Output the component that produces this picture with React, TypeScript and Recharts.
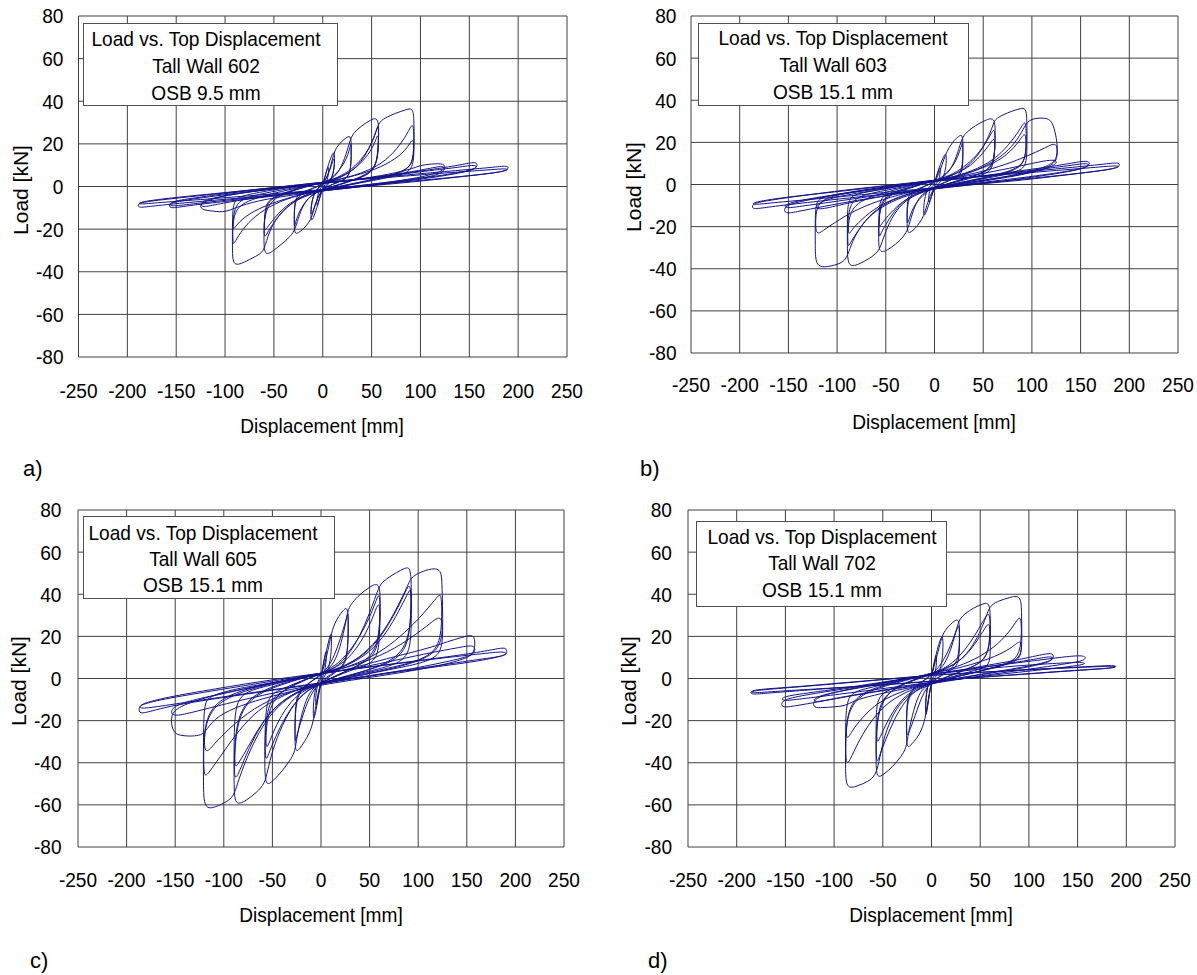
import React from 'react';
import { ScatterChart, Scatter, XAxis, YAxis, CartesianGrid } from 'recharts';

type Pt = [number, number];

const dispTicks = [-250, -200, -150, -100, -50, 0, 50, 100, 150, 200, 250];
const loadTicks = [-80, -60, -40, -20, 0, 20, 40, 60, 80];

const wallNames = ['Tall Wall 602', 'Tall Wall 603', 'Tall Wall 605', 'Tall Wall 702'];
const osbNames = ['OSB 9.5 mm', 'OSB 15.1 mm', 'OSB 15.1 mm', 'OSB 15.1 mm'];
const panelTags = ['a)', 'b)', 'c)', 'd)'];

// displacement [mm], load [kN], one full cycle per entry
const wall602: Pt[][] = [
  [[0,0],[2,4],[4,7.5],[6,10],[6.2,6],[4,2],[1,0],[-2,-3],[-4,-7],[-6,-10],[-6.2,-6],[-4,-2],[-1,0],[0,0]],
  [[0,1],[3,6],[6,10.5],[9,14.5],[12,17],[12.3,11],[10,4],[5,0.5],[0,-1.5],[-3,-5],[-6,-10],[-9,-14],[-12,-17],[-12.3,-11],[-10,-4],[-5,-0.5],[0,1]],
  [[0,1],[5,5],[9,10],[12,14.5],[12.2,9],[9,3],[0,-1],[-5,-5],[-9,-10],[-12,-14.5],[-12.2,-9],[-9,-3],[0,1]],
  [[0,1],[4,4],[8,9],[11,15],[14,18.5],[20,21.5],[25,23.2],[29,24],[29.3,17],[28.8,8],[26,4],[15,2],[5,0],[0,-1.5],[-4,-4],[-8,-9],[-11,-14],[-14,-17],[-20,-20],[-25,-21.8],[-29,-22.5],[-29.3,-16],[-29,-7.6],[-26,-4],[-15,-1.5],[-5,0],[0,1]],
  [[0,1.5],[8,3.5],[16,7],[22,11],[26,15],[28.5,19.5],[29,20.5],[29.2,13],[28,6],[22,3],[10,1],[0,-1],[-8,-3],[-16,-6],[-22,-10],[-26,-14],[-28.5,-18],[-29,-19.5],[-29.2,-12],[-28,-6],[-20,-3],[-10,-1],[0,1.5]],
  [[0,1.5],[10,3.5],[18,8],[24,15],[28,22],[32,25.5],[40,28.5],[48,31],[57,33],[57.5,24],[56,13],[52,8],[40,4.5],[20,1.5],[0,-1.5],[-10,-3.5],[-18,-7],[-24,-13],[-28,-20],[-33,-23.5],[-42,-27],[-50,-30],[-60,-33],[-60.3,-24],[-59.5,-10],[-55,-6],[-40,-3],[-20,0],[0,1.5]],
  [[0,2],[15,4],[30,8],[42,14],[50,20],[55,26],[57,30],[57.3,20],[55,9],[45,5],[25,2],[0,-1.5],[-15,-3.5],[-30,-7],[-42,-12],[-52,-18],[-58,-23],[-60,-24],[-60.2,-16],[-57,-7],[-45,-4],[-20,-0.5],[0,2]],
  [[0,2],[20,4.5],[35,9],[47,15],[54,21],[57,26],[57.2,16],[53,7],[30,2.5],[0,-1.5],[-20,-4],[-38,-9],[-50,-15],[-58,-20],[-60,-21],[-59.5,-12],[-50,-5],[-25,-1],[0,2]],
  [[0,1.5],[15,3.5],[30,7],[42,13],[52,22],[57,30],[63,32],[75,34.5],[85,36],[92,37],[93.5,32],[93.5,20],[93,9],[85,6],[60,3.5],[30,1],[0,-2],[-15,-4],[-30,-7],[-45,-13],[-55,-21],[-60,-30],[-65,-32],[-78,-35],[-92,-38],[-92.5,-30],[-92.5,-15],[-91.5,-6],[-80,-4],[-50,-1.5],[-20,0.5],[0,1.5]],
  [[0,2],[20,3.5],[45,7],[65,12],[80,20],[88,26],[93,31],[93.5,20],[92,10],[80,6],[50,3],[0,-1.5],[-25,-4],[-50,-8],[-70,-14],[-82,-20],[-90,-26],[-92,-28],[-92.3,-18],[-90,-7],[-70,-4],[-35,-1],[0,2]],
  [[0,2],[25,4],[55,8],[75,13],[87,18],[93,24],[93.5,15],[90,8],[60,4],[0,-1.5],[-30,-4.5],[-60,-9],[-80,-14],[-90,-19],[-92,-21],[-91,-10],[-70,-5],[0,2]],
  [[0,1.5],[30,3],[60,5],[90,8],[100,10],[110,10.5],[125,11],[125.5,8],[120,5.5],[90,3],[50,0.5],[0,-2],[-30,-4],[-60,-6],[-85,-9],[-100,-12.3],[-112,-11.5],[-125,-11],[-125.5,-8],[-120,-6],[-90,-3.5],[-50,-1],[0,1.5]],
  [[0,1.5],[40,3.5],[80,6],[110,8.5],[125,10],[125.3,7.5],[100,4],[50,1],[0,-1.5],[-40,-3.5],[-80,-6],[-110,-8.5],[-125,-10],[-125.3,-7.5],[-100,-4],[-50,-1],[0,1.5]],
  [[0,1.5],[40,3.5],[80,6],[120,8.5],[145,10.5],[158,11.8],[158.5,9],[150,7],[110,4],[60,1],[0,-2],[-40,-4],[-80,-6],[-120,-8],[-145,-9.5],[-157,-10.4],[-157.5,-8],[-150,-6.5],[-110,-4],[-60,-1],[0,1.5]],
  [[0,1.5],[50,3.8],[100,7],[140,9],[158,10.5],[158.3,8],[120,5],[60,1.5],[0,-1.5],[-50,-4],[-100,-6.5],[-140,-8.5],[-157,-9.5],[-157.3,-7.5],[-120,-5],[-60,-1.5],[0,1.5]],
  [[0,2],[50,4],[100,6],[150,8],[180,9.3],[190,9.8],[190.5,8],[180,6.5],[140,4.5],[90,2],[40,0],[0,-2],[-50,-4],[-100,-6],[-150,-8],[-180,-9.5],[-189,-10],[-189.5,-8],[-180,-7],[-140,-5],[-90,-2.5],[-40,0],[0,2]],
  [[0,2],[60,4],[120,6.2],[170,7.8],[190,8.6],[190.3,7.2],[150,5],[90,2.5],[0,-1.5],[-60,-3.8],[-120,-6],[-170,-7.6],[-189,-8.5],[-189.3,-7.3],[-150,-5],[-90,-2.5],[0,2]],
];

const wall603: Pt[][] = [
  [[0,0],[2,3.5],[4,6.5],[6,9],[6.2,5],[4,1.5],[0,-0.5],[-2,-4],[-4,-7],[-6,-9.5],[-6.2,-5],[-4,-1.5],[0,0]],
  [[0,1],[3,5.5],[6,9.5],[9,13],[12,15.5],[12.3,10],[10,4],[5,0.5],[0,-1.5],[-3,-5.5],[-6,-10],[-9,-13.5],[-11,-15.5],[-11.3,-10],[-9,-4],[-5,-0.5],[0,1]],
  [[0,1],[4,4.5],[8,9.5],[11,14],[15,17.5],[20,21],[25,23],[29,24],[29.3,17],[29,7],[26,4],[15,2],[5,0],[0,-1.5],[-4,-4.5],[-8,-10],[-11,-15],[-15,-18],[-20,-21],[-24,-22.5],[-28,-23.5],[-28.3,-16],[-28,-7],[-25,-4],[-15,-1.5],[-5,0],[0,1]],
  [[0,1.5],[8,3.5],[16,7],[22,11],[26,16],[28.5,19.5],[29,21],[29.2,13],[28,6],[20,2.5],[0,-1],[-8,-3.5],[-16,-7],[-22,-11],[-26,-16],[-28,-20],[-28.3,-12],[-26,-5],[-15,-2],[0,1.5]],
  [[0,1.5],[10,3.5],[18,8],[24,15],[28,22],[33,25],[42,28],[52,30.5],[62,32.2],[62.5,24],[61.5,12],[58,6],[45,4],[25,1.5],[0,-1.5],[-10,-3.5],[-18,-7.5],[-23,-14],[-27,-21],[-32,-25],[-40,-28.5],[-48,-31],[-57,-33],[-57.5,-25],[-57,-8],[-52,-5],[-35,-2.5],[-15,0],[0,1.5]],
  [[0,2],[15,4],[30,8],[44,14],[53,20],[58,24],[62,27.5],[62.3,18],[60,8],[48,5],[25,2],[0,-1.5],[-15,-3.5],[-30,-7],[-42,-13],[-50,-19],[-55,-23],[-57,-26],[-57.3,-17],[-55,-7],[-42,-4],[-20,-1],[0,2]],
  [[0,2],[20,4.5],[38,9],[50,15],[58,20],[62,23],[62.2,14],[57,6.5],[30,2.5],[0,-1.5],[-20,-4.5],[-36,-9],[-48,-15],[-55,-19],[-57,-21],[-56.5,-11],[-48,-5],[-25,-1.5],[0,2]],
  [[0,1.5],[15,3.5],[30,7],[44,13],[54,21],[60,28],[62,31],[70,33],[80,35],[88,36],[94,36.6],[95,30],[95,18],[94.5,8.6],[85,6],[60,3.5],[30,1],[0,-2],[-15,-4],[-30,-7.5],[-42,-14],[-50,-22],[-55,-29],[-58,-32],[-66,-35],[-78,-38],[-89,-39.5],[-89.5,-30],[-89.5,-15],[-88.5,-5.5],[-75,-4],[-50,-2],[-20,0.5],[0,1.5]],
  [[0,2],[20,3.5],[45,7.5],[65,13],[80,21],[89,27],[94,31.4],[94.5,20],[93,10],[80,6],[50,3],[0,-1.5],[-25,-4],[-50,-8.5],[-68,-15],[-80,-23],[-87,-28],[-89,-30.6],[-89.3,-19],[-87,-7],[-65,-4],[-30,-1],[0,2]],
  [[0,2],[25,4],[55,8.5],[75,14],[88,21],[94,26],[94.3,15],[90,8],[60,4],[0,-1.5],[-30,-4.5],[-58,-10],[-76,-17],[-86,-22],[-89,-25],[-88,-11],[-65,-5],[0,2]],
  [[0,1.5],[20,3],[45,7],[65,12],[80,18],[90,25],[95,30],[103,31.5],[112,31.6],[119,31],[123,27],[126,20],[126.5,13],[122,9],[100,5.5],[70,3],[35,0.5],[0,-2],[-20,-4],[-45,-8],[-65,-14],[-78,-21],[-86,-29],[-90,-35],[-96,-37.5],[-108,-39],[-122,-39.5],[-122.5,-30],[-122.5,-15],[-121.5,-7],[-110,-5.5],[-80,-3],[-40,-0.5],[0,1.5]],
  [[0,2],[30,4],[60,7.5],[85,11.5],[105,15.5],[118,18.5],[126,20],[126.3,13],[120,9],[90,5],[50,2],[0,-1.5],[-30,-4],[-60,-8],[-85,-13],[-102,-18],[-115,-22],[-122,-24.4],[-122.3,-15],[-119,-7],[-90,-4],[-45,-1],[0,2]],
  [[0,2],[35,4],[70,7],[100,10],[126,12.5],[126.2,9],[100,5.5],[50,2],[0,-1.5],[-35,-4],[-70,-7],[-100,-10],[-122,-12.5],[-122,-9],[-100,-5.5],[-50,-2],[0,2]],
  [[0,1.5],[40,3.5],[80,6],[120,8.5],[145,10.5],[159,11.5],[159.5,9],[150,7],[110,4],[60,1],[0,-2],[-40,-4.5],[-80,-7.5],[-115,-10.5],[-140,-12.8],[-154,-14.1],[-154.5,-11],[-148,-9],[-110,-5.5],[-60,-2],[0,1.5]],
  [[0,1.5],[50,3.8],[100,6.8],[140,9],[159,10.5],[159.3,8],[120,5],[60,1.5],[0,-1.5],[-50,-4.5],[-100,-8],[-140,-10.5],[-154,-11.5],[-154.3,-9],[-120,-6],[-60,-2],[0,1.5]],
  [[0,2],[50,4],[100,6.3],[150,8.5],[180,10],[190,10.5],[190.5,8.5],[180,7],[140,4.8],[90,2],[40,0],[0,-2],[-50,-4.5],[-100,-7],[-150,-9.5],[-178,-11.2],[-187,-11.8],[-187.5,-9.5],[-180,-8.2],[-140,-5.5],[-90,-2.5],[-40,0],[0,2]],
  [[0,2],[60,4.2],[120,6.5],[170,8.3],[190,9.2],[190.3,7.8],[150,5.3],[90,2.5],[0,-1.5],[-60,-4.2],[-120,-6.8],[-170,-8.8],[-187,-9.8],[-187.3,-8.4],[-150,-5.8],[-90,-3],[0,2]],
];

const wall605: Pt[][] = [
  [[0,0],[2,6],[4,11],[5.5,14],[5.7,8],[3,2],[0,-1],[-2,-6],[-4,-11],[-5.5,-14],[-5.7,-8],[-3,-2],[0,0]],
  [[0,1],[3,8],[6,14],[8.5,19],[10.7,22.5],[11,15],[9,6],[5,2],[0,-1.5],[-2.5,-8],[-5,-15],[-7.9,-21],[-8.2,-13],[-6,-5],[-3,-1],[0,1]],
  [[0,1.5],[4,7],[8,15],[11,22],[14,26],[18,29.5],[23,32.5],[27.6,34.4],[28,25],[27.5,12],[24,6],[14,3],[5,0.5],[0,-1.5],[-3,-7],[-6,-15],[-8.5,-21.5],[-12,-26],[-17,-30],[-22,-33.5],[-26.5,-35.4],[-27,-26],[-26.5,-12],[-23,-6],[-14,-2.5],[-5,0],[0,1.5]],
  [[0,2],[7,5],[14,11],[20,19],[24,25],[27,30],[28,32],[28.3,22],[27,10],[20,4],[0,-1.5],[-7,-5],[-14,-11],[-19,-18],[-23,-24],[-26,-29],[-26.5,-30.6],[-26.8,-20],[-25,-8],[-15,-3],[0,2]],
  [[0,2],[10,5],[17,11],[22,19],[26,28],[28,33],[32,36],[40,40],[50,43.5],[60.4,46],[61,37],[60.5,20],[58,9],[45,6],[25,3],[0,-2],[-10,-5],[-17,-12],[-22,-21],[-25.5,-30],[-27,-35],[-32,-39],[-40,-44],[-49,-48.5],[-57.3,-51.7],[-58,-40],[-57.5,-20],[-55,-8],[-40,-5],[-20,-1],[0,2]],
  [[0,2.5],[15,6],[28,12],[40,20],[50,29],[56,36],[60.5,42],[61,30],[59,14],[48,8],[25,3.5],[0,-2],[-15,-6],[-28,-12],[-40,-21],[-49,-30],[-54,-36],[-57.3,-40],[-57.6,-28],[-55,-11],[-40,-6],[-20,-1.5],[0,2.5]],
  [[0,2.5],[20,6],[35,13],[47,22],[55,31],[60.5,38],[60.8,25],[56,11],[30,4],[0,-2],[-20,-6],[-35,-13],[-46,-22],[-53,-30],[-57,-35],[-56.5,-20],[-48,-8],[-25,-2],[0,2.5]],
  [[0,2],[15,5],[28,11],[40,20],[50,31],[57,40],[61,45],[68,47.5],[78,50.5],[86,52.3],[92,53.2],[93,44],[93,30],[92.5,15],[85,8],[60,4.5],[30,1.5],[0,-2.5],[-15,-5.5],[-28,-12],[-40,-22],[-50,-34],[-55,-44],[-58,-50],[-66,-54],[-77,-58],[-88.9,-60.8],[-89.5,-50],[-89.5,-30],[-88.5,-12],[-78,-6],[-50,-3],[-20,0.5],[0,2]],
  [[0,2.5],[20,5],[45,11],[62,20],[75,30],[85,39],[92,47],[92.8,35],[91,18],[80,9],[50,4],[0,-2],[-20,-5],[-45,-12],[-62,-22],[-74,-33],[-83,-43],[-89,-49.7],[-89.4,-38],[-87,-18],[-70,-7],[-35,-1.5],[0,2.5]],
  [[0,2.5],[25,5.5],[50,12],[68,22],[80,32],[89,40],[93,44],[93.2,30],[88,13],[60,5],[0,-2],[-25,-6],[-50,-14],[-66,-25],[-78,-35],[-86,-41],[-89,-43],[-88.5,-28],[-80,-10],[-40,-2.5],[0,2.5]],
  [[0,2],[20,4.5],[40,10],[58,18],[72,28],[83,38],[90,45],[93,48],[100,50],[110,51.8],[123.6,52.7],[124.5,45],[125,35],[125.5,22],[124,12],[110,8],[80,5],[40,1.5],[0,-2.5],[-20,-5.5],[-40,-11],[-57,-20],[-70,-31],[-80,-42],[-86,-50],[-90,-56],[-97,-58.5],[-108,-61],[-120.5,-62.4],[-121,-50],[-121,-30],[-120.5,-12],[-115,-8.4],[-90,-5],[-50,-2],[0,2]],
  [[0,2.5],[30,5.5],[60,12],[82,20],[100,28],[113,35],[120,39],[124,40.8],[124.5,28],[122,14],[100,8],[60,4],[0,-2],[-30,-6],[-60,-13],[-80,-22],[-96,-32],[-108,-40],[-116,-45],[-120.5,-47.3],[-121,-35],[-119,-16],[-95,-7],[-50,-2],[0,2.5]],
  [[0,2.5],[35,6],[70,12.5],[95,20],[112,26],[125,31],[125.3,20],[118,11],[80,5],[0,-2],[-35,-6.5],[-70,-14],[-95,-24],[-110,-31],[-120,-37],[-120.5,-25],[-112,-12],[-70,-4],[0,2.5]],
  [[0,2],[30,4.5],[60,8.5],[90,12],[115,15],[130,17.5],[145,19.5],[158,21.3],[158.5,16],[157,11],[140,8],[100,4],[50,0.5],[0,-3],[-30,-6],[-60,-9.5],[-90,-14],[-110,-19],[-120,-26],[-125,-27],[-135,-27.5],[-145,-27],[-151,-26],[-154,-22],[-154,-18],[-150,-14],[-120,-9],[-80,-5],[-40,-1.5],[0,2]],
  [[0,2.5],[40,5],[80,9],[115,12.5],[140,14.5],[158,16.2],[158.8,13],[155,10.6],[120,7],[70,2.5],[0,-2.5],[-40,-6],[-80,-10],[-115,-14],[-140,-17],[-154,-18],[-154.5,-14],[-140,-11],[-100,-7],[-50,-2],[0,2.5]],
  [[0,2.5],[50,5.5],[100,8.5],[150,11.5],[180,14],[190.8,14.9],[191.5,12],[189,10.6],[160,9],[120,6],[70,3],[0,-2.5],[-50,-5.5],[-100,-9],[-150,-12.5],[-175,-15.5],[-187,-17],[-187.5,-14],[-185,-12],[-160,-9],[-110,-5],[-50,-0.5],[0,2.5]],
  [[0,2.5],[60,6],[120,9.5],[170,12],[191,13],[191.2,11],[160,8],[100,4.5],[0,-2],[-60,-6],[-120,-10],[-170,-13.5],[-187,-14.5],[-187.3,-12.5],[-160,-9.5],[-100,-5],[0,2.5]],
];

const wall702: Pt[][] = [
  [[0,0],[2,6],[4,10],[5,12],[5.3,6],[3,1.5],[0,-1],[-2,-7],[-4,-13],[-5.9,-19.5],[-6.2,-11],[-4,-3],[0,0]],
  [[0,1],[3,8],[6,14],[9,18.5],[11.7,21],[12,13],[10,5],[5,1],[0,-1.5],[-2,-7],[-4,-13],[-5.9,-18],[-6.2,-10],[-4,-3],[0,1]],
  [[0,1.5],[4,8],[8,15],[11,20.5],[15,23.5],[20,26],[24,27.5],[28.5,28.4],[29,20],[28.5,9],[25,5],[14,2.5],[5,0],[0,-1.5],[-3,-9],[-6,-18],[-9,-23],[-13,-27],[-18,-30],[-22,-32],[-25.4,-33],[-25.8,-24],[-25.5,-11],[-22,-6],[-12,-2],[-4,0],[0,1.5]],
  [[0,2],[7,5],[14,10],[20,16],[24,21],[27,24.5],[28.5,25.7],[28.8,16],[27,8],[18,3.5],[0,-1.5],[-6,-5],[-12,-11],[-17,-18],[-21,-23],[-24,-26.5],[-25.4,-27.5],[-25.7,-18],[-24,-8],[-14,-3],[0,2]],
  [[0,2],[10,4.5],[17,10],[22,17],[26,24],[29,28.5],[35,31],[43,33.5],[52,35.3],[59.8,36.5],[60.5,28],[60.5,15],[60,6],[50,4.5],[30,2],[0,-2],[-10,-5],[-16,-11],[-21,-20],[-24.5,-28],[-26,-33],[-31,-37],[-40,-42],[-49,-45.5],[-56.6,-47.8],[-57,-38],[-57,-20],[-56,-9],[-45,-5.5],[-25,-2],[0,2]],
  [[0,2.5],[15,5],[28,10],[40,17],[49,24],[55,29],[60,32],[60.4,22],[58,10],[45,6],[25,2.5],[0,-2],[-15,-5],[-28,-11],[-39,-20],[-47,-29],[-53,-36],[-56.6,-41.7],[-57,-30],[-55,-12],[-40,-5],[-20,-1],[0,2.5]],
  [[0,2.5],[20,5.5],[36,11],[47,18],[55,24],[60,27.5],[60.3,17],[55,8],[30,3],[0,-2],[-20,-5.5],[-35,-12],[-46,-21],[-53,-28],[-56.6,-32],[-56,-18],[-47,-7],[-25,-1.5],[0,2.5]],
  [[0,2],[15,4.5],[30,8.5],[42,15],[52,24],[57,31],[61,35],[70,37],[80,38.5],[91.8,39.7],[92.5,32],[92.8,20],[92.5,10.6],[85,7.5],[60,4.5],[30,1.5],[0,-2.5],[-15,-5.5],[-30,-10],[-42,-19],[-50,-30],[-54,-40],[-57.5,-46],[-65,-49],[-76,-51],[-87.9,-52.8],[-88.3,-42],[-88.3,-25],[-87.5,-8.4],[-75,-5.5],[-50,-3],[-20,0.5],[0,2]],
  [[0,2.5],[20,4.5],[45,9],[65,15],[78,21],[87,27],[92,30.5],[92.6,20],[90,10],[75,6.5],[45,3],[0,-2],[-20,-5],[-45,-11],[-62,-20],[-74,-29],[-82,-37],[-87.9,-42.5],[-88.2,-30],[-86,-12],[-65,-5],[-30,-1],[0,2.5]],
  [[0,2.5],[25,4.5],[55,8.5],[75,12.5],[86,16],[92.5,18.6],[92.7,12],[86,8],[55,4],[0,-2],[-25,-5],[-55,-11],[-72,-19],[-82,-25],[-87.9,-30.6],[-87.5,-18],[-75,-7],[-35,-2],[0,2.5]],
  [[0,2],[30,4],[60,6.5],[85,8.5],[100,10],[115,11.5],[125,12.2],[125.5,9.5],[120,7.5],[95,5],[60,2.5],[25,0],[0,-2.5],[-30,-5],[-60,-8],[-80,-10.5],[-88,-13],[-100,-13.5],[-112,-13.8],[-121,-14],[-121.5,-11],[-116,-8.5],[-90,-5.5],[-50,-2],[0,2]],
  [[0,2],[40,4.5],[80,7.2],[110,9.5],[125,10.8],[125.3,8.5],[100,5.8],[50,2],[0,-2],[-40,-4.8],[-80,-7.8],[-105,-10],[-121,-11.5],[-121.3,-9],[-100,-6.5],[-50,-2.5],[0,2]],
  [[0,2],[40,4.5],[80,7],[115,9],[140,10.5],[158,11.1],[158.5,9],[150,7.8],[110,5],[60,2],[0,-2.5],[-40,-5],[-80,-8],[-115,-11],[-140,-13],[-154,-14],[-154.5,-11],[-145,-9],[-105,-6],[-55,-2.5],[0,2]],
  [[0,2],[50,4.5],[100,6.5],[140,7.5],[158,7.8],[158.3,6.5],[120,4.5],[60,1.5],[0,-1.8],[-50,-4.8],[-100,-7.8],[-140,-10],[-154,-10.8],[-154.3,-8.5],[-120,-6.5],[-60,-2.5],[0,2]],
  [[0,1.5],[50,3],[100,4.3],[150,5.4],[175,6],[189.5,6.3],[190,5.2],[175,4.6],[130,3.2],[80,1.5],[30,0],[0,-1.5],[-50,-3],[-100,-4.5],[-150,-6.3],[-175,-7.2],[-185.5,-7.6],[-186,-6.2],[-180,-5.2],[-140,-4],[-90,-2],[-40,0],[0,1.5]],
  [[0,1.5],[60,3.2],[120,4.6],[170,5.6],[189.5,6],[189.8,5],[150,4],[90,2],[0,-1.2],[-60,-3.4],[-120,-5],[-170,-6.4],[-185.5,-7],[-185.8,-5.8],[-150,-4.5],[-90,-2.2],[0,1.5]],
];

const allWalls = [wall602, wall603, wall605, wall702];

const FONT = "'Liberation Sans', Arial, Helvetica, sans-serif";
const SQUEEZE = 0.91;
const LINE = '#14148c';
const GRID = '#404040';
const YW = 60;
const XH = 40;

// chart box [left, top, w, h], plot rect [x0, x1, y0, y1]
const layout = [
  { chart: [0, 0, 598, 487], plot: [78.5, 567, 16, 357], yGap: 15, xGap: 26, box: [83, 23, 255, 83], textX: 206, lines: [38.3, 65, 91.7], yLab: [20, 190], xLab: [322, 425], tag: [23, 469] },
  { chart: [598, 0, 599, 487], plot: [691, 1178, 16, 353], yGap: 14.5, xGap: 24, box: [698, 23, 271, 83], textX: 833, lines: [37.3, 64, 90.7], yLab: [632.5, 187], xLab: [934, 421], tag: [640, 469] },
  { chart: [0, 487, 598, 488], plot: [78, 564, 510, 847], yGap: 16.5, xGap: 25, box: [83, 516, 252, 83], textX: 203, lines: [531.7, 557.5, 584.3], yLab: [18, 681], xLab: [320.6, 914], tag: [30, 961] },
  { chart: [598, 487, 599, 488], plot: [688, 1175, 510, 847], yGap: 16, xGap: 25, box: [696, 521, 251, 86], textX: 821.6, lines: [535.7, 561.7, 589], yLab: [627.6, 681], xLab: [931, 914], tag: [648, 961] },
];

const XTick = (p: any) => (
  <text transform={`translate(${p.x},${p.y}) scale(${SQUEEZE},1)`} textAnchor="middle" dy="0.71em"
    fontSize={21} fontFamily={FONT} fill="#000">{p.payload.value}</text>
);

const YTick = (p: any) => (
  <text transform={`translate(${p.x},${p.y}) scale(${SQUEEZE},1)`} textAnchor="end" dy="0.355em"
    fontSize={21} fontFamily={FONT} fill="#000">{p.payload.value}</text>
);

const noDot = () => <g />;

const textStyle: React.CSSProperties = {
  position: 'absolute', fontFamily: FONT, fontSize: 21, lineHeight: 1, color: '#000', whiteSpace: 'nowrap',
};

function Panel({ idx }: { idx: number }) {
  const L = layout[idx];
  const [cl, ct, cw, ch] = L.chart;
  const [x0, x1, y0, y1] = L.plot;
  const margin = { left: x0 - cl - YW, right: cl + cw - x1, top: y0 - ct, bottom: ct + ch - y1 - XH };
  const loops = allWalls[idx];
  const [bx, by, bw, bh] = L.box;
  const boxLines = ['Load vs. Top Displacement', wallNames[idx], osbNames[idx]];
  return (
    <>
      <div style={{ position: 'absolute', left: cl, top: ct }}>
        <ScatterChart width={cw} height={ch} margin={margin}>
          <CartesianGrid stroke={GRID} strokeWidth={1} horizontalValues={loadTicks} verticalValues={dispTicks} />
          <XAxis type="number" dataKey="x" domain={[-250, 250]} ticks={dispTicks} interval={0} height={XH}
            axisLine={false} tickLine={false} tickSize={0} tickMargin={L.xGap} tick={<XTick />} allowDataOverflow />
          <YAxis type="number" dataKey="y" domain={[-80, 80]} ticks={loadTicks} interval={0} width={YW}
            axisLine={false} tickLine={false} tickSize={0} tickMargin={L.yGap} tick={<YTick />} allowDataOverflow />
          {loops.map((loop, i) => (
            <Scatter key={i} data={loop.map(([x, y]) => ({ x, y }))} line={{ stroke: LINE, strokeWidth: 1 }}
              lineType="joint" lineJointType="basis" shape={noDot} fill={LINE} isAnimationActive={false} />
          ))}
        </ScatterChart>
      </div>
      <div style={{ position: 'absolute', left: bx, top: by, width: bw, height: bh, boxSizing: 'border-box',
        border: '1px solid #505050', background: '#fff' }} />
      {boxLines.map((t, i) => (
        <div key={t + i} style={{ ...textStyle, left: L.textX, top: L.lines[i], transform: `translate(-50%,-50%) scaleX(${SQUEEZE})` }}>{t}</div>
      ))}
      <div style={{ ...textStyle, left: L.yLab[0], top: L.yLab[1], transform: 'translate(-50%,-50%) rotate(-90deg)' }}>Load [kN]</div>
      <div style={{ ...textStyle, left: L.xLab[0], top: L.xLab[1], transform: `translate(-50%,-50%) scaleX(${SQUEEZE})` }}>Displacement [mm]</div>
      <div style={{ ...textStyle, fontSize: 22, left: L.tag[0], top: L.tag[1], transform: 'translate(0,-50%)' }}>{panelTags[idx]}</div>
    </>
  );
}

export default function App() {
  return (
    <div style={{ position: 'absolute', left: 0, top: 0, width: 1197, height: 975, background: '#fff', overflow: 'hidden' }}>
      {[0, 1, 2, 3].map((i) => <Panel key={i} idx={i} />)}
    </div>
  );
}
